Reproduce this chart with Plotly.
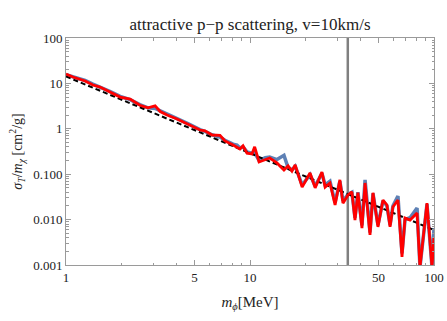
import plotly.graph_objects as go

# data
m_phi = [1.00, 1.09, 1.27, 1.40, 1.53, 1.73, 1.97, 2.23, 2.52, 2.79, 3.05, 3.25, 3.54, 4.01, 4.60,
         5.35, 5.69, 6.22, 6.87, 7.31, 8.09, 8.50, 8.82, 9.16, 9.63, 10.25, 10.6, 11.2, 12.1, 12.8,
         14.0, 15.3, 16.1, 16.9, 17.6, 19.2, 21.2, 22.6, 24.6, 25.6, 27.2, 29.0, 30.8, 32.0, 34.1,
         35.8, 37.2, 38.6, 40.6, 42.2, 44.9, 46.6, 49.6, 52.8, 55.5, 57.7, 59.8, 63.7, 67.0, 69.6,
         74.1, 80.9, 83.9, 91.6, 97.5, 100.0]

sigma_red = [16.1, 13.8, 11.3, 9.2, 8.3, 6.5, 5.0, 4.5, 3.3, 2.9, 3.2, 2.4, 2.01, 1.64, 1.28,
             0.94, 0.90, 0.73, 0.72, 0.54, 0.44, 0.40, 0.36, 0.42, 0.29, 0.28, 0.40, 0.186, 0.206, 0.227,
             0.177, 0.124, 0.152, 0.117, 0.160, 0.052, 0.106, 0.050, 0.112, 0.052, 0.064, 0.021, 0.075, 0.023, 0.035,
             0.041, 0.0098, 0.039, 0.0065, 0.064, 0.0046, 0.039, 0.0069, 0.027, 0.021, 0.0069, 0.019, 0.027, 0.0015, 0.0108,
             0.0098, 0.014, 0.0009, 0.023, 0.0009, 0.0041]

sigma_blue = [15.6, 13.9, 11.6, 9.6, 8.4, 6.7, 5.2, 4.4, 3.4, 2.9, 2.8, 2.5, 2.05, 1.66, 1.30,
              0.96, 0.88, 0.74, 0.66, 0.56, 0.46, 0.44, 0.38, 0.40, 0.31, 0.29, 0.30, 0.20, 0.23, 0.24,
              0.21, 0.26, 0.14, 0.125, 0.15, 0.058, 0.098, 0.055, 0.105, 0.058, 0.070, 0.024, 0.070, 0.026, 0.036,
              0.040, 0.011, 0.040, 0.0075, 0.075, 0.0052, 0.038, 0.0075, 0.026, 0.020, 0.0075, 0.020, 0.033, 0.0018, 0.010,
              0.011, 0.018, 0.0009, 0.022, 0.0009, 0.0065]

fit_m = [1.0, 100.0]
fit_sigma = [14.2, 0.0059]

m_line = 34.0
y_span = [0.001, 100]

serif = "Liberation Serif"
frame = "#9a9a9a"
txt = "#222"

fig = go.Figure()
fig.add_trace(go.Scatter(x=[m_line, m_line], y=y_span, mode="lines",
                         line=dict(color="#808080", width=2.5)))
fig.add_trace(go.Scatter(x=m_phi, y=sigma_blue, mode="lines",
                         line=dict(color="#5e81b5", width=3.5)))
fig.add_trace(go.Scatter(x=fit_m, y=fit_sigma, mode="lines",
                         line=dict(color="black", width=2, dash="5px,3px")))
fig.add_trace(go.Scatter(x=m_phi, y=sigma_red, mode="lines",
                         line=dict(color="#ff0000", width=2.8)))

x_major = [1, 5, 10, 50, 100]
x_minor = [2, 3, 4, 6, 7, 8, 9, 20, 30, 40, 60, 70, 80, 90]
y_major = [0.001, 0.01, 0.1, 1, 10, 100]
y_labels = ["0.001", "0.010", "0.100", "1", "10", "100"]
y_minor = [k * 10.0 ** e for e in range(-3, 2) for k in range(2, 10)]

fig.update_xaxes(
    type="log", range=[0, 2], showgrid=False, zeroline=False, automargin=False,
    showline=True, linecolor=frame, linewidth=1, mirror="ticks",
    ticks="inside", ticklen=5, tickcolor=frame,
    tickvals=x_major, ticktext=[str(v) for v in x_major],
    minor=dict(tickvals=x_minor, ticks="inside", ticklen=2.5, tickcolor=frame, showgrid=False),
    tickfont=dict(family=serif, size=13, color=txt),
    title=dict(text="<i>m</i><sub><i>ϕ</i></sub>[MeV]", font=dict(family=serif, size=15, color=txt), standoff=12),
)
fig.update_yaxes(
    type="log", range=[-3, 2], showgrid=False, zeroline=False, automargin=False,
    showline=True, linecolor=frame, linewidth=1, mirror="ticks",
    ticks="inside", ticklen=5, tickcolor=frame,
    tickvals=y_major, ticktext=y_labels,
    minor=dict(tickvals=y_minor, ticks="inside", ticklen=2.5, tickcolor=frame, showgrid=False),
    tickfont=dict(family=serif, size=13, color=txt),
    title=dict(text="<i>σ</i><sub><i>T</i></sub>/<i>m</i><sub><i>χ</i></sub> [cm<sup>2</sup>/g]",
               font=dict(family=serif, size=14, color=txt), standoff=7),
)

fig.update_layout(
    width=447, height=321,
    margin=dict(l=66, r=13, t=38, b=56),
    plot_bgcolor="white", paper_bgcolor="white",
    showlegend=False,
    title=dict(text="attractive p−p scattering, v=10km/s", xref="paper", x=0.5, xanchor="center",
               yref="container", y=0.945, font=dict(family=serif, size=17, color=txt)),
)

# page body has a default 8px margin, drop it so the figure sits at the corner
fig.write_html("out.html", config={"displayModeBar": False},
               post_script="document.body.style.margin='0';")
